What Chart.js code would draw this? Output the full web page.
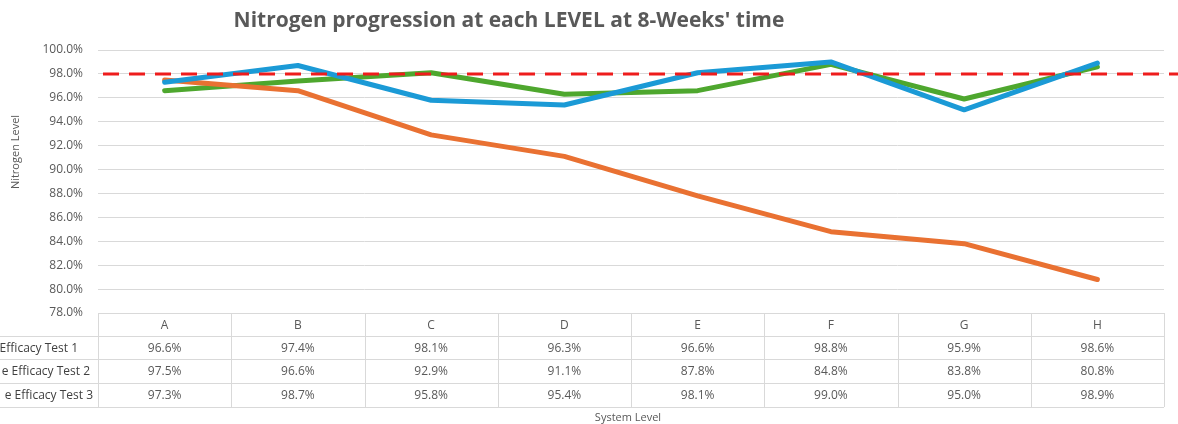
<!DOCTYPE html>
<html>
<head>
<meta charset="utf-8">
<script src="https://cdn.jsdelivr.net/npm/chart.js@4/dist/chart.umd.min.js"></script>
<style>
html,body{margin:0;padding:0;background:#fff;}
#wrap{width:1178px;height:424px;position:relative;}
</style>
</head>
<body>
<div id="wrap"><canvas id="c" width="1178" height="424"></canvas></div>
<script>
const categories = ['A','B','C','D','E','F','G','H'];
const test1 = [96.6, 97.4, 98.1, 96.3, 96.6, 98.8, 95.9, 98.6];
const test2 = [97.5, 96.6, 92.9, 91.1, 87.8, 84.8, 83.8, 80.8];
const test3 = [97.3, 98.7, 95.8, 95.4, 98.1, 99.0, 95.0, 98.9];
const seriesLabels = ['Efficacy Test 1', 'e Efficacy Test 2', 'e Efficacy Test 3'];
const threshold = 98.0;
const yMin = 78, yMax = 100, yStep = 2;
const titleText = "Nitrogen progression at each LEVEL at 8-Weeks' time";
const yTitle = 'Nitrogen Level';
const xTitle = 'System Level';

const FONT = '"Open Sans", "Liberation Sans", sans-serif';
const TXT = '#595959';
const GRID = '#d9d9d9';

const seriesData = [test1, test2, test3];
const labelRight = [78, 90, 93];

const extras = {
  id: 'extras',
  afterDatasetsDraw(chart) {
    const {ctx, chartArea, scales} = chart;
    const y = scales.y;
    const yy = y.getPixelForValue(threshold);
    ctx.save();
    ctx.strokeStyle = '#ee1c1c';
    ctx.lineWidth = 3;
    ctx.setLineDash([16, 10]);
    ctx.beginPath();
    ctx.moveTo(chartArea.left + 5, yy);
    ctx.lineTo(chart.width, yy);
    ctx.stroke();
    ctx.restore();
  },
  afterDraw(chart) {
    const {ctx, chartArea, scales} = chart;
    const x = scales.x;
    ctx.save();
    ctx.fillStyle = TXT;
    ctx.font = 'bold 21px ' + FONT;
    ctx.textAlign = 'center';
    ctx.textBaseline = 'middle';
    ctx.fillText(titleText, 509, 21);
    ctx.save();
    ctx.translate(16, 152);
    ctx.rotate(-Math.PI/2);
    ctx.font = '11px ' + FONT;
    ctx.fillText(yTitle, 0, 0);
    ctx.restore();

    const left = chartArea.left, right = chartArea.right;
    const rows = [chartArea.bottom, 336, 359, 383, 407];
    ctx.strokeStyle = GRID;
    ctx.lineWidth = 1;
    ctx.beginPath();
    ctx.moveTo(left, rows[0] + 0.5); ctx.lineTo(right, rows[0] + 0.5);
    for (let r = 1; r < rows.length; r++) {
      ctx.moveTo(0, rows[r] + 0.5); ctx.lineTo(right, rows[r] + 0.5);
    }
    const n = categories.length;
    const colW = (right - left) / n;
    for (let i = 0; i <= n; i++) {
      const xx = Math.round(left + i * colW) + 0.5;
      ctx.moveTo(xx, rows[0]); ctx.lineTo(xx, rows[rows.length - 1]);
    }
    ctx.stroke();

    ctx.font = '12px ' + FONT;
    ctx.fillStyle = TXT;
    ctx.textAlign = 'center';
    categories.forEach((c, i) => {
      const cx = x.getPixelForValue(i);
      ctx.fillText(c, cx, (rows[0] + rows[1]) / 2 + 1);
      seriesData.forEach((arr, s) => {
        ctx.fillText(arr[i].toFixed(1) + '%', cx, (rows[s + 1] + rows[s + 2]) / 2 + 1);
      });
    });
    ctx.textAlign = 'right';
    ctx.fillStyle = '#404040';
    seriesLabels.forEach((l, s) => {
      ctx.fillText(l, labelRight[s], (rows[s + 1] + rows[s + 2]) / 2 + 1);
    });
    ctx.fillStyle = TXT;
    ctx.textAlign = 'center';
    ctx.font = '11px ' + FONT;
    ctx.fillText(xTitle, 628, 418);
    ctx.restore();
  }
};

new Chart(document.getElementById('c'), {
  type: 'line',
  data: {
    labels: categories,
    datasets: [
      {label: seriesLabels[0], data: test1, borderColor: '#4ea72e', order: 3},
      {label: seriesLabels[1], data: test2, borderColor: '#e97132', order: 2},
      {label: seriesLabels[2], data: test3, borderColor: '#1b9ad6', order: 1}
    ]
  },
  options: {
    responsive: false,
    animation: false,
    devicePixelRatio: 1,
    layout: {padding: {left: 0, right: 14, top: 50, bottom: 0}},
    elements: {
      line: {borderWidth: 5, tension: 0, borderJoinStyle: 'round', borderCapStyle: 'round'},
      point: {radius: 0, hoverRadius: 0}
    },
    plugins: {legend: {display: false}, title: {display: false}, tooltip: {enabled: false}},
    scales: {
      x: {
        offset: true,
        grid: {display: false},
        border: {display: false},
        ticks: {display: false},
        afterFit(scale) { scale.height = 111; }
      },
      y: {
        min: yMin, max: yMax,
        border: {display: false},
        grid: {color: GRID, lineWidth: 1, drawTicks: false},
        ticks: {
          stepSize: yStep,
          padding: 15,
          color: TXT,
          font: {family: FONT, size: 12},
          callback: v => v.toFixed(1) + '%'
        },
        afterFit(scale) { scale.width = 98; }
      }
    }
  },
  plugins: [extras]
});
</script>
</body>
</html>
